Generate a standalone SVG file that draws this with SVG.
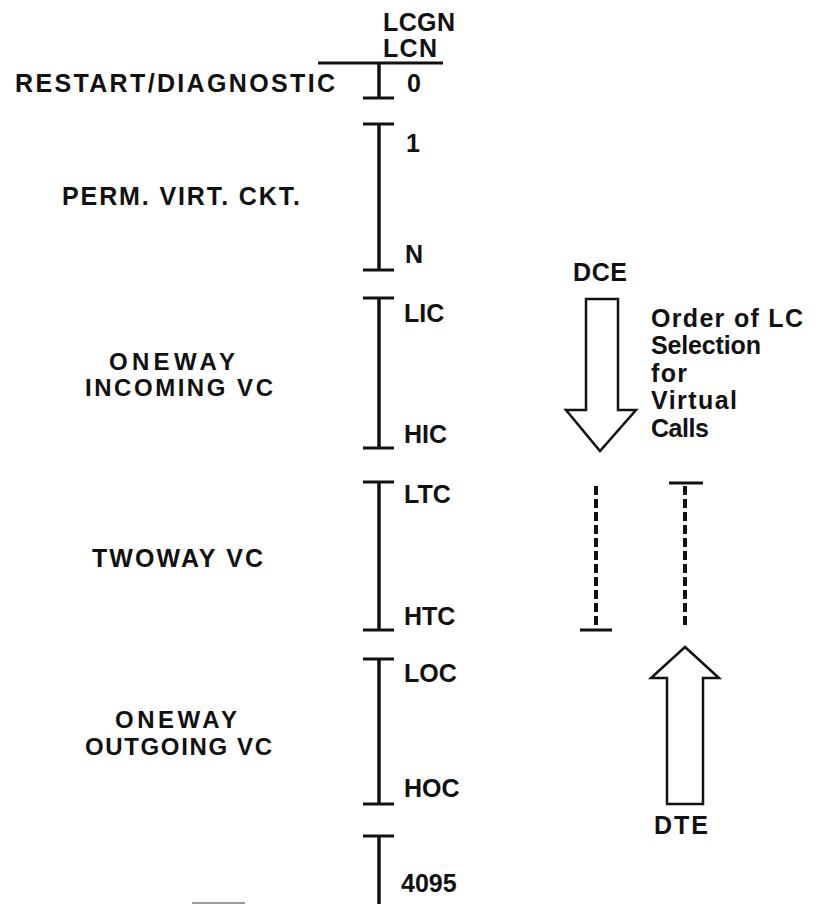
<svg xmlns="http://www.w3.org/2000/svg" width="816" height="904" viewBox="0 0 816 904">
<style>
  text { font-family: "Liberation Sans", Arial, sans-serif; font-weight: bold; font-size: 25px; fill: #111; }
  .two { font-size: 24px; }
  .ax { stroke: #111; stroke-width: 3.5; fill: none; }
  .bar { stroke: #111; stroke-width: 3; fill: none; }
  .dash { stroke: #111; stroke-width: 4; stroke-dasharray: 9 4; fill: none; }
  .arrow { stroke: #111; stroke-width: 2.5; fill: #fff; stroke-linejoin: miter; }
</style>
<rect width="816" height="904" fill="#fff"/>

<g id="header">
  <text x="383" y="31" textLength="72">LCGN</text>
  <text x="383" y="57" textLength="54">LCN</text>
  <line class="bar" x1="318" y1="63" x2="443" y2="63"/>
</g>

<g id="seg-restart">
  <line class="ax" x1="379" y1="63" x2="379" y2="98"/>
  <line class="bar" x1="363" y1="98" x2="394" y2="98"/>
  <text x="15" y="92" textLength="320">RESTART/DIAGNOSTIC</text>
  <text x="407" y="92">0</text>
</g>

<g id="seg-pvc">
  <line class="bar" x1="363" y1="124" x2="394" y2="124"/>
  <line class="ax" x1="379" y1="124" x2="379" y2="270"/>
  <line class="bar" x1="363" y1="270" x2="394" y2="270"/>
  <text x="62" y="205" textLength="238">PERM. VIRT. CKT.</text>
  <text x="406" y="152">1</text>
  <text x="405" y="263">N</text>
</g>

<g id="seg-incoming">
  <line class="bar" x1="363" y1="298" x2="394" y2="298"/>
  <line class="ax" x1="379" y1="298" x2="379" y2="448"/>
  <line class="bar" x1="363" y1="448" x2="394" y2="448"/>
  <text class="two" x="109" y="370" textLength="126">ONEWAY</text>
  <text class="two" x="85" y="396" textLength="188">INCOMING VC</text>
  <text x="404" y="322">LIC</text>
  <text x="404" y="443">HIC</text>
</g>

<g id="seg-twoway">
  <line class="bar" x1="363" y1="482" x2="394" y2="482"/>
  <line class="ax" x1="379" y1="482" x2="379" y2="630"/>
  <line class="bar" x1="363" y1="630" x2="394" y2="630"/>
  <text x="92" y="567" textLength="171">TWOWAY VC</text>
  <text x="404" y="503">LTC</text>
  <text x="404" y="625">HTC</text>
</g>

<g id="seg-outgoing">
  <line class="bar" x1="363" y1="659" x2="394" y2="659"/>
  <line class="ax" x1="379" y1="659" x2="379" y2="804"/>
  <line class="bar" x1="363" y1="804" x2="394" y2="804"/>
  <text class="two" x="115" y="728" textLength="122">ONEWAY</text>
  <text class="two" x="85" y="755" textLength="187">OUTGOING VC</text>
  <text x="404" y="682">LOC</text>
  <text x="404" y="797">HOC</text>
</g>

<g id="seg-top">
  <line class="bar" x1="363" y1="836" x2="394" y2="836"/>
  <line class="ax" x1="379" y1="836" x2="379" y2="904"/>
  <text x="401" y="892">4095</text>
</g>

<g id="dce-arrow">
  <text x="573" y="281" textLength="54">DCE</text>
  <polygon class="arrow" points="586,299 618,299 618,410 636,410 600,451 566,410 586,410"/>
</g>

<g id="legend">
  <text x="651" y="327" textLength="152">Order of LC</text>
  <text x="651" y="354" textLength="110">Selection</text>
  <text x="651" y="382" textLength="36">for</text>
  <text x="651" y="409" textLength="86">Virtual</text>
  <text x="651" y="437" textLength="58">Calls</text>
</g>

<g id="connectors">
  <line class="dash" x1="596" y1="486" x2="596" y2="629"/>
  <line class="bar" x1="580" y1="630" x2="612" y2="630"/>
  <line class="bar" x1="669" y1="483" x2="703" y2="483"/>
  <line class="dash" x1="685" y1="486" x2="685" y2="629"/>
</g>

<g id="dte-arrow">
  <polygon class="arrow" points="685,647 719,678 703,678 703,804 667,804 667,678 651,678"/>
  <text x="654" y="834" textLength="54">DTE</text>
</g>

<line x1="192" y1="903" x2="245" y2="903" stroke="#999" stroke-width="2"/>
</svg>
